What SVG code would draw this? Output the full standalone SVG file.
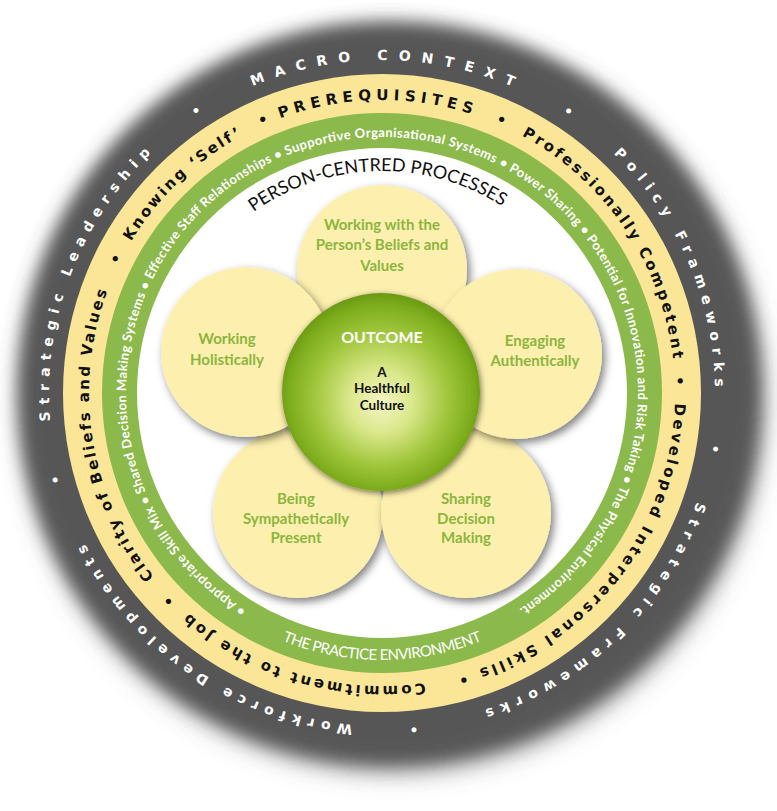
<svg xmlns="http://www.w3.org/2000/svg" width="777" height="811" viewBox="0 0 777 811">
<defs>
<style>
.dk{font-family:"DejaVu Sans",sans-serif;font-weight:bold;font-size:14px;fill:#fff;letter-spacing:6px}
.yl{font-family:"DejaVu Sans",sans-serif;font-weight:bold;font-size:15px;fill:#111;letter-spacing:4px}
.gr{font-family:Lato,"Liberation Sans",sans-serif;font-weight:bold;font-size:13px;fill:#fff}
.pc{font-family:Lato,"Liberation Sans",sans-serif;font-size:18px;fill:#111}
.pe{font-family:Lato,"Liberation Sans",sans-serif;font-size:15px;fill:#fff}
.pt{font-family:Lato,"Liberation Sans",sans-serif;font-weight:bold;font-size:15px;fill:#8cb53f;text-anchor:middle}
.ct{font-family:Lato,"Liberation Sans",sans-serif;font-weight:bold;text-anchor:middle}
.petal{fill:#fdf0ae;filter:url(#ps)}
</style>
<filter id="outerBlur" x="-10%" y="-10%" width="120%" height="120%"><feGaussianBlur stdDeviation="9"/></filter>
<filter id="shBlur" x="-15%" y="-15%" width="130%" height="130%"><feGaussianBlur stdDeviation="14"/></filter>
<filter id="ps" x="-30%" y="-30%" width="160%" height="160%"><feDropShadow dx="3" dy="4" stdDeviation="4" flood-color="#000" flood-opacity="0.5"/></filter>
<filter id="cs" x="-30%" y="-30%" width="160%" height="160%"><feDropShadow dx="1" dy="2" stdDeviation="3" flood-color="#000" flood-opacity="0.55"/></filter>
<radialGradient id="cg" cx="50%" cy="52%" r="52%" fx="50%" fy="56%">
<stop offset="0" stop-color="#f4f5c4"/>
<stop offset="0.3" stop-color="#dbe88c"/>
<stop offset="0.65" stop-color="#a0c63c"/>
<stop offset="0.9" stop-color="#7cac1c"/>
<stop offset="1" stop-color="#6a9914"/>
</radialGradient>
<path id="pDark" d="M382,60 A333,333 0 1 1 382,726 A333,333 0 1 1 382,60 A333,333 0 1 1 382,726 A333,333 0 1 1 382,60"/>
<path id="pYel" d="M382,100 A293,293 0 1 1 382,686 A293,293 0 1 1 382,100 A293,293 0 1 1 382,686 A293,293 0 1 1 382,100"/>
<path id="pGrn" d="M382,137 A256,256 0 1 1 382,649 A256,256 0 1 1 382,137 A256,256 0 1 1 382,649 A256,256 0 1 1 382,137"/>
<path id="pPC" d="M382,171 A222,222 0 1 1 382,615 A222,222 0 1 1 382,171 A222,222 0 1 1 382,615 A222,222 0 1 1 382,171"/>
<path id="pPE" d="M115,393 A267,267 0 0 0 649,393"/>
</defs>

<g id="macro-context">
<circle cx="393" cy="402" r="366" fill="#6a6a6a" filter="url(#shBlur)"/>
<circle cx="389" cy="392" r="370" fill="#575757" filter="url(#outerBlur)"/>
<text class="dk"><textPath href="#pDark" startOffset="1958.6" textLength="273" lengthAdjust="spacing">MACRO CONTEXT</textPath></text>
<text class="dk" text-anchor="middle"><textPath href="#pDark" startOffset="197.6">•</textPath></text>
<text class="dk"><textPath href="#pDark" startOffset="255.7" textLength="267" lengthAdjust="spacing">Policy Frameworks</textPath></text>
<text class="dk" text-anchor="middle"><textPath href="#pDark" startOffset="581.2">•</textPath></text>
<text class="dk"><textPath href="#pDark" startOffset="633.5" textLength="314" lengthAdjust="spacing">Strategic Frameworks</textPath></text>
<text class="dk" text-anchor="middle"><textPath href="#pDark" startOffset="1017.1">•</textPath></text>
<text class="dk"><textPath href="#pDark" startOffset="1075.2" textLength="343" lengthAdjust="spacing">Workforce Developments</textPath></text>
<text class="dk" text-anchor="middle"><textPath href="#pDark" startOffset="1485">•</textPath></text>
<text class="dk"><textPath href="#pDark" startOffset="1540.2" textLength="302" lengthAdjust="spacing">Strategic Leadership</textPath></text>
<text class="dk" text-anchor="middle"><textPath href="#pDark" startOffset="1900.5">•</textPath></text>
</g>

<g id="prerequisites">
<circle cx="382" cy="393" r="319" fill="#fbe697"/>
<text class="yl"><textPath href="#pYel" startOffset="1736.1" textLength="199" lengthAdjust="spacing">PREREQUISITES</textPath></text>
<text class="yl" text-anchor="middle"><textPath href="#pYel" startOffset="122.7">•</textPath></text>
<text class="yl"><textPath href="#pYel" startOffset="145.7" textLength="284" lengthAdjust="spacing">Professionally Competent</textPath></text>
<text class="yl" text-anchor="middle"><textPath href="#pYel" startOffset="450">•</textPath></text>
<text class="yl"><textPath href="#pYel" startOffset="470.5" textLength="355" lengthAdjust="spacing">Developed Interpersonal Skills</textPath></text>
<text class="yl" text-anchor="middle"><textPath href="#pYel" startOffset="840.7">•</textPath></text>
<text class="yl"><textPath href="#pYel" startOffset="877" textLength="258" lengthAdjust="spacing">Commitment to the Job</textPath></text>
<text class="yl" text-anchor="middle"><textPath href="#pYel" startOffset="1155.7">•</textPath></text>
<text class="yl"><textPath href="#pYel" startOffset="1181.3" textLength="307" lengthAdjust="spacing">Clarity of Beliefs and Values</textPath></text>
<text class="yl" text-anchor="middle"><textPath href="#pYel" startOffset="1518.8">•</textPath></text>
<text class="yl"><textPath href="#pYel" startOffset="1539.3" textLength="158" lengthAdjust="spacing">Knowing ‘Self’</textPath></text>
<text class="yl" text-anchor="middle"><textPath href="#pYel" startOffset="1721.8">•</textPath></text>
</g>

<g id="practice-environment">
<circle cx="382" cy="393" r="280" fill="#8cb94b"/>
<circle cx="382" cy="393" r="245" fill="#ffffff"/>
<text class="gr"><textPath href="#pGrn" startOffset="947.2" textLength="1320" lengthAdjust="spacing">• Appropriate Skill Mix • Shared Decision Making Systems • Effective Staff Relationships • Supportive Organisational Systems • Power Sharing • Potential for Innovation and Risk Taking • The Physical Environment.</textPath></text>
<text class="pe" text-anchor="middle"><textPath href="#pPE" startOffset="419.4" textLength="205" lengthAdjust="spacing">THE PRACTICE ENVIRONMENT</textPath></text>
</g>

<g id="person-centred-processes">
<text class="pc"><textPath href="#pPC" startOffset="1257.3" textLength="264" lengthAdjust="spacing">PERSON-CENTRED PROCESSES</textPath></text>
</g>

<g id="connectors"></g>

<g id="petal-sympathetically-present">
<circle class="petal" cx="298" cy="513" r="85"/>
<text class="pt" x="296" y="504">Being</text>
<text class="pt" x="296" y="524">Sympathetically</text>
<text class="pt" x="296" y="543">Present</text>
</g>
<g id="petal-sharing-decision-making">
<circle class="petal" cx="466" cy="513" r="85"/>
<text class="pt" x="466" y="504">Sharing</text>
<text class="pt" x="466" y="524">Decision</text>
<text class="pt" x="466" y="543">Making</text>
</g>
<g id="petal-beliefs-values">
<circle class="petal" cx="382" cy="270" r="85"/>
<text class="pt" x="382" y="230">Working with the</text>
<text class="pt" x="382" y="250">Person’s Beliefs and</text>
<text class="pt" x="382" y="271">Values</text>
</g>
<g id="petal-working-holistically">
<circle class="petal" cx="246" cy="352" r="85"/>
<text class="pt" x="227" y="344">Working</text>
<text class="pt" x="227" y="365">Holistically</text>
</g>
<g id="petal-engaging-authentically">
<circle class="petal" cx="517" cy="354" r="85"/>
<text class="pt" x="535" y="346">Engaging</text>
<text class="pt" x="535" y="366">Authentically</text>
</g>

<g id="outcome">
<circle cx="381" cy="392" r="99" fill="url(#cg)" filter="url(#cs)"/>
<text class="ct" x="382" y="343" font-size="16" fill="#ffffff">OUTCOME</text>
<text class="ct" x="382" y="377" font-size="13.5" fill="#111">A</text>
<text class="ct" x="382" y="393" font-size="13.5" fill="#111">Healthful</text>
<text class="ct" x="382" y="410" font-size="13.5" fill="#111">Culture</text>
</g>
</svg>
